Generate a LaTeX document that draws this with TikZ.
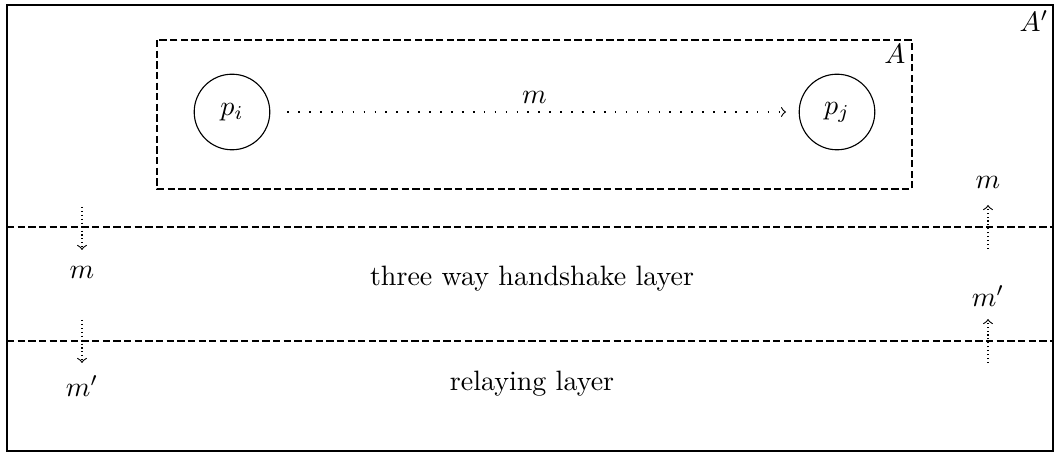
\documentclass[tikz,border=0pt]{standalone}
\usetikzlibrary{arrows}
\begin{document}
\begin{tikzpicture}[x=0.3571pt,y=-0.3571pt,
  proc/.style={draw,circle,minimum size=27pt,inner sep=0pt},
  boxdash/.style={dash pattern=on 2.6pt off 1.2pt},
  layerline/.style={dash pattern=on 2.6pt off 1.2pt},
  msg/.style={dash pattern=on 0.6pt off 3.3pt,->},
  vmsg/.style={densely dotted,->},
  lbl/.style={inner sep=0pt}]
\useasboundingbox (0,0) rectangle (1060,455);
\draw[semithick] (7,5) rectangle (1053,451);
\node[lbl,anchor=north east] (Ap) at (1049,10) {$A'$};
\draw[boxdash] (157,40) rectangle (912,189);
\node[lbl,anchor=north east] (A) at (906,44) {$A$};
\node[proc] (pi) at (232,112) {$p_i$};
\node[proc] (pj) at (837,112) {$p_j$};
\draw[msg,shorten <=6pt,shorten >=4.5pt] (pi) -- node[above=3pt,lbl] {$m$} (pj);
\coordinate (l1a) at (7,227); \coordinate (l1b) at (1053,227);
\coordinate (l2a) at (7,341); \coordinate (l2b) at (1053,341);
\draw[layerline] (l1a) -- (l1b);
\draw[layerline] (l2a) -- (l2b);
\node (t1) at (532,279) {three way handshake layer};
\node (t2) at (532,384) {relaying layer};
\coordinate (d1s) at (82,207); \coordinate (d1e) at (82,250);
\coordinate (d2s) at (82,320); \coordinate (d2e) at (82,363);
\draw[vmsg] (d1s) -- (d1e);
\draw[vmsg] (d2s) -- (d2e);
\node (dm1) at (82,272) {$m$};
\node (dm2) at (82,386) {$m'$};
\coordinate (u1s) at (988,249); \coordinate (u1e) at (988,205);
\coordinate (u2s) at (988,363); \coordinate (u2e) at (988,319);
\draw[vmsg] (u1s) -- (u1e);
\draw[vmsg] (u2s) -- (u2e);
\node (um1) at (988,182) {$m$};
\node (um2) at (988,296) {$m'$};
\end{tikzpicture}
\end{document}
